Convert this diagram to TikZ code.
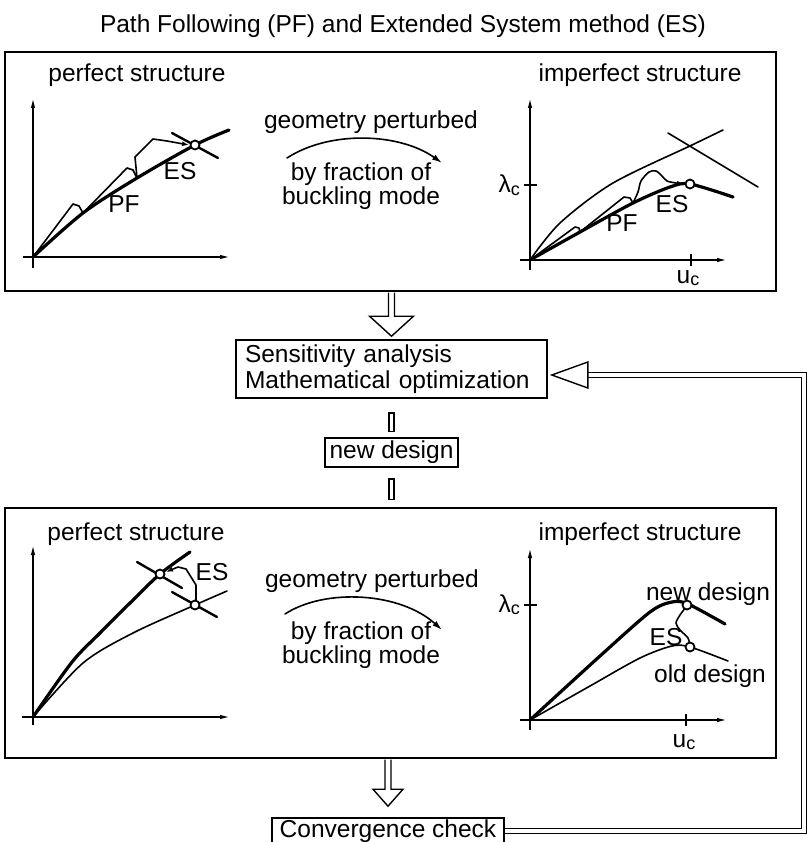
\documentclass[tikz,border=0pt]{standalone}
\usepackage{fontspec}
\setmainfont{Liberation Sans}
\usetikzlibrary{arrows.meta,calc}
\newcommand\subsc[1]{\raisebox{-2.5pt}{\fontsize{18}{18}\selectfont #1}}
\begin{document}
\begin{tikzpicture}[x=1pt,y=-1pt,
  font=\fontsize{24.5}{26}\selectfont,
  frame/.style={draw, line width=1.6pt, inner sep=0pt},
  txt/.style={inner sep=0pt, anchor=base},
  thickc/.style={line width=3.2pt, line cap=round, line join=round},
  thinc/.style={line width=1.6pt, line cap=round, line join=round},
  crossl/.style={line width=2.4pt, line cap=round},
  axis/.style={line width=1.5pt, -{Latex[length=10pt,width=4.5pt]}},
  tick/.style={line width=2pt},
  ring/.style={circle, draw, fill=white, line width=1.8pt, minimum size=9pt, inner sep=0pt},
  smalltip/.style={-{Latex[length=7pt,width=5pt]}},
  hollow/.style={draw, line width=1.4pt, fill=white, line join=miter},
  feedback/.style={double, double distance=3.6pt, line width=1.3pt},
]
\useasboundingbox (0,0) rectangle (806,842);

% title
\node[txt] (title) at (403,33) {Path Following (PF) and Extended System method (ES)};

% frames and boxes
\node[frame, minimum width=771pt, minimum height=239pt] (topfr) at (390.5,171.5) {};
\node[frame, minimum width=771pt, minimum height=250pt] (botfr) at (390.5,633) {};
\node[frame, minimum width=311pt, minimum height=58pt, text width=293pt, align=left] (sens) at (391.5,369) {Sensitivity analysis\\Mathematical optimization};
\node[frame, minimum width=133pt, minimum height=29pt] (newd) at (391.5,452.5) {new design};
\node[frame, minimum width=232pt, minimum height=26pt] (conv) at (388,831) {Convergence check};

% ---------- top frame ----------
\node[txt] (tps) at (137,82) {perfect structure};
\node[txt] (tis) at (640,82) {imperfect structure};
\node[txt] (tgp) at (371,129) {geometry perturbed};
\node[txt] (tbf) at (361,181) {by fraction of};
\node[txt] (tbm) at (361,205) {buckling mode};
\draw[thinc, -{Latex[length=10pt,width=6pt]}] (287,158) .. controls (330,130) and (400,133) .. (442,163);

% top-left plot
\draw[axis] (33,268) -- (33,98);
\draw[axis] (23,257) -- (230,257);
\draw[thickc] plot[smooth] coordinates {(33,257) (83,213) (137,178) (195,145) (229,130)};
\draw[crossl] (172,133) -- (218,158);
\draw[thinc] (33,257) -- (73,204) -- (79,206) -- (83,213) -- (127,168) -- (133,170) -- (137,178);
\draw[thinc, smalltip] (137,178) -- (135,157) -- (153,139) -- (167,141) -- (189,145);
\node[ring] (tlc) at (195,145) {};
\node[txt] (tles) at (180,180) {ES};
\node[txt] (tlpf) at (124,213) {PF};

% top-right plot
\draw[axis] (530,270) -- (530,98);
\draw[axis] (520,260) -- (727,260);
\draw[tick] (524,185) -- (537,185);
\draw[tick] (691,254) -- (691,266);
\node[txt, anchor=base east] (tlam) at (520,193) {λ\subsc{c}};
\node[txt] (tuc) at (688,283) {u\subsc{c}};
\draw[thinc] plot[smooth] coordinates {(530,260) (560,223) (613,183) (692,145) (723,130)};
\draw[thinc] (668,133) -- (758,187);
\draw[thickc] plot[smooth] coordinates {(530,260) (580,232) (633,203) (670,187) (690,184) (733,197)};
\draw[thinc] (530,260) -- (575,227) -- (579,228) -- (580,232) -- (624,197) -- (630,198) -- (633,203);
\draw[thinc, smalltip] plot[smooth] coordinates {(633,203) (638,192) (641,181) (649,172) (656,171) (662,176) (667,181) (676,183) (684,184)};
\node[ring] (trc) at (690,184) {};
\node[txt] (tres) at (672,212) {ES};
\node[txt] (trpf) at (622,232) {PF};

% ---------- bottom frame ----------
\node[txt] (bps) at (136,540) {perfect structure};
\node[txt] (bis) at (640,540) {imperfect structure};
\node[txt] (bgp) at (372,587) {geometry perturbed};
\node[txt] (bbf) at (361,639) {by fraction of};
\node[txt] (bbm) at (361,663) {buckling mode};
\draw[thinc, -{Latex[length=10pt,width=6pt]}] (285,614) .. controls (325,588) and (400,592) .. (442,630);

% bottom-left plot
\draw[axis] (33,725) -- (33,545);
\draw[axis] (22,717) -- (230,717);
\draw[thickc] plot[smooth] coordinates {(33,717) (72,662) (100,633) (130,603) (160,574) (190,552)};
\draw[thinc] plot[smooth] coordinates {(33,717) (83,663) (133,633) (195,605) (227,591)};
\draw[crossl] (137,562) -- (182,588);
\draw[crossl] (172,592) -- (217,617);
\draw[thinc, smalltip] (196,600) -- (196,585) -- (186,569) -- (178,567) -- (166,572);
\node[ring] (blc1) at (160,574) {};
\node[ring] (blc2) at (195,605) {};
\node[txt] (bles) at (212,580) {ES};

% bottom-right plot
\draw[axis] (530,730) -- (530,548);
\draw[axis] (520,720) -- (727,720);
\draw[tick] (524,605) -- (537,605);
\draw[tick] (686,714) -- (686,726);
\node[txt, anchor=base east] (blam) at (520,612) {λ\subsc{c}};
\node[txt] (buc) at (684,747) {u\subsc{c}};
\draw[thickc] plot[smooth] coordinates {(530,720) (600,656) (650,612) (672,602) (688,604) (725,624)};
\draw[thinc] plot[smooth] coordinates {(530,720) (590,686) (640,658) (672,646) (690,647) (728,661)};
\draw[thinc] plot[smooth] coordinates {(690,647) (688,638) (680,630) (676,623) (680,615) (686,607)};
\node[ring] (brc1) at (687,605) {};
\node[ring] (brc2) at (690,647) {};
\node[txt] (bnd) at (708,600) {new design};
\node[txt] (bres) at (666,645) {ES};
\node[txt] (bod) at (710,682) {old design};

% ---------- flow arrows ----------
\draw[hollow] let \p1=(topfr.south), \p2=(sens.north) in
  (\x2-3pt,\y1-0.8pt) -- (\x2-3pt,\y2+23pt) -- (\x2-22pt,\y2+23pt) -- (\x2,\y2+3pt)
  -- (\x2+22pt,\y2+23pt) -- (\x2+3pt,\y2+23pt) -- (\x2+3pt,\y1-0.8pt);
\draw[hollow] let \p1=(sens.south), \p2=(newd.north) in
  (\x2-2.5pt,\y1-14pt) rectangle (\x2+2.5pt,\y2+6pt);
\draw[hollow] let \p1=(newd.south), \p2=(botfr.north) in
  (\x1-2.5pt,\y1-11pt) rectangle (\x1+2.5pt,\y2+8pt);
\draw[hollow] let \p1=(botfr.south), \p2=(conv.north) in
  (\x2-3pt,\y1-0.8pt) -- (\x2-3pt,\y2+28pt) -- (\x2-15pt,\y2+28pt) -- (\x2,\y2+11pt)
  -- (\x2+15pt,\y2+28pt) -- (\x2+3pt,\y2+28pt) -- (\x2+3pt,\y1-0.8pt);

% feedback loop
\coordinate (loopR) at (804,375);
\coordinate (headtip) at ($(sens.east)+(4,6)$);
\draw[feedback] (conv.east) -| (loopR) -- ($(headtip)+(36,0)$);
\draw[hollow] (headtip) -- ++(36,-13) -- ++(0,26) -- cycle;
\end{tikzpicture}
\end{document}
